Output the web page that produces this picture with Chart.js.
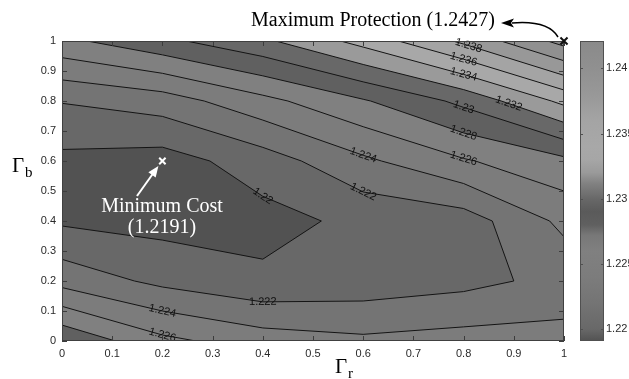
<!DOCTYPE html>
<html>
<head>
<meta charset="utf-8">
<script src="https://cdn.jsdelivr.net/npm/chart.js@4/dist/chart.umd.min.js"></script>
<style>
  html, body { margin: 0; padding: 0; background: #fff; }
</style>
</head>
<body>
<canvas id="chart" width="629" height="379"></canvas>
<script>
// grid of the study
const gammaR = [0, 0.2, 0.4, 0.6, 0.8, 1];
const gammaB = [0, 0.2, 0.4, 0.6, 0.8, 1];
// total cost, one row per gammaB value (bottom to top)
const costRows = [
  [1.2297, 1.2265, 1.2250, 1.2244, 1.2248, 1.2248],
  [1.2233, 1.2215, 1.2204, 1.2208, 1.2214, 1.2226],
  [1.2197, 1.2193, 1.2193, 1.2205, 1.2210, 1.2245],
  [1.2195, 1.2191, 1.2210, 1.2236, 1.2258, 1.2275],
  [1.2221, 1.2230, 1.2254, 1.2278, 1.2305, 1.2345],
  [1.2275, 1.2295, 1.2316, 1.2347, 1.2384, 1.2427]
];
const levels = [1.22, 1.222, 1.224, 1.226, 1.228, 1.23, 1.232, 1.234, 1.236, 1.238, 1.24, 1.242];
const axisTicks = [0, 0.1, 0.2, 0.3, 0.4, 0.5, 0.6, 0.7, 0.8, 0.9, 1];
const cbTicks = [1.22, 1.225, 1.23, 1.235, 1.24];
const cbMin = 1.2191, cbMax = 1.2421;
// gray colormap (value -> gray level)
const cmapValues = [1.2191, 1.2200, 1.2210, 1.2220, 1.2240, 1.2260, 1.2272, 1.2280, 1.2290, 1.2300, 1.2312, 1.2320, 1.2330, 1.2340, 1.2360, 1.2380, 1.2400, 1.2421];
const cmapGray   = [82, 104, 110, 116, 124, 128, 120, 96, 90, 104, 130, 154, 166, 168, 164, 152, 144, 138];
// contour labels: level, gammaR where it sits, rough gammaB of the branch
const labelSpots = [
  [1.238, 0.81, 0.99], [1.236, 0.80, 0.94], [1.234, 0.80, 0.89], [1.232, 0.89, 0.80],
  [1.23, 0.80, 0.78], [1.228, 0.80, 0.69], [1.226, 0.80, 0.61], [1.224, 0.60, 0.61],
  [1.222, 0.60, 0.51], [1.22, 0.40, 0.48], [1.222, 0.40, 0.13], [1.224, 0.20, 0.09],
  [1.226, 0.20, 0.02]
];
const minCost = [0.2, 0.6, 1.2191];
const maxProt = [1, 1, 1.2427];

const fmt = v => String(Number(v.toFixed(4)));

function grayAt(v) {
  let g = cmapGray[0];
  if (v >= cmapValues[cmapValues.length - 1]) g = cmapGray[cmapGray.length - 1];
  for (let k = 0; k < cmapValues.length - 1; k++) {
    if (v >= cmapValues[k] && v <= cmapValues[k + 1]) {
      const t = (v - cmapValues[k]) / (cmapValues[k + 1] - cmapValues[k]);
      g = cmapGray[k] + t * (cmapGray[k + 1] - cmapGray[k]);
      break;
    }
  }
  g = Math.round(g);
  return `rgb(${g},${g},${g})`;
}

function cell(i, j) {
  return [
    { x: gammaR[i], y: gammaB[j], v: costRows[j][i] },
    { x: gammaR[i + 1], y: gammaB[j], v: costRows[j][i + 1] },
    { x: gammaR[i + 1], y: gammaB[j + 1], v: costRows[j + 1][i + 1] },
    { x: gammaR[i], y: gammaB[j + 1], v: costRows[j + 1][i] }
  ];
}

function cut(a, b, L) {
  const t = (L - a.v) / (b.v - a.v);
  return { x: a.x + t * (b.x - a.x), y: a.y + t * (b.y - a.y), v: L };
}

// part of a cell where cost >= L
function clipCell(pts, L) {
  const out = [];
  for (let k = 0; k < pts.length; k++) {
    const a = pts[k], b = pts[(k + 1) % pts.length];
    const ain = a.v >= L, bin = b.v >= L;
    if (ain) out.push(a);
    if (ain !== bin) out.push(cut(a, b, L));
  }
  return out;
}

// marching squares
function segments(L) {
  const segs = [];
  for (let j = 0; j < gammaB.length - 1; j++) {
    for (let i = 0; i < gammaR.length - 1; i++) {
      const c = cell(i, j);
      const pts = [];
      for (let k = 0; k < 4; k++) {
        const a = c[k], b = c[(k + 1) % 4];
        if ((a.v >= L) !== (b.v >= L)) pts.push(cut(a, b, L));
      }
      if (pts.length === 2) segs.push(pts);
      else if (pts.length === 4) {
        const mid = (c[0].v + c[1].v + c[2].v + c[3].v) / 4;
        if ((mid >= L) === (c[0].v >= L)) { segs.push([pts[0], pts[1]], [pts[2], pts[3]]); }
        else { segs.push([pts[0], pts[3]], [pts[1], pts[2]]); }
      }
    }
  }
  return segs;
}

const contourPlugin = {
  id: 'contour',
  beforeDatasetsDraw(chart) {
    const { ctx, chartArea: a, scales: { x, y } } = chart;
    const px = v => x.getPixelForValue(v), py = v => y.getPixelForValue(v);
    ctx.save();
    ctx.beginPath();
    ctx.rect(a.left, a.top, a.right - a.left, a.bottom - a.top);
    ctx.clip();
    ctx.fillStyle = grayAt(cbMin);
    ctx.fillRect(a.left, a.top, a.right - a.left, a.bottom - a.top);

    levels.forEach(L => {
      ctx.beginPath();
      for (let j = 0; j < gammaB.length - 1; j++) {
        for (let i = 0; i < gammaR.length - 1; i++) {
          const poly = clipCell(cell(i, j), L);
          if (poly.length < 3) continue;
          poly.forEach((p, k) => k ? ctx.lineTo(px(p.x), py(p.y)) : ctx.moveTo(px(p.x), py(p.y)));
          ctx.closePath();
        }
      }
      ctx.fillStyle = grayAt(L);
      ctx.fill();
    });

    ctx.strokeStyle = '#141414';
    ctx.lineWidth = 1;
    levels.forEach(L => {
      ctx.beginPath();
      segments(L).forEach(s => {
        ctx.moveTo(px(s[0].x), py(s[0].y));
        ctx.lineTo(px(s[1].x), py(s[1].y));
      });
      ctx.stroke();
    });
    ctx.restore();

    // contour labels
    ctx.save();
    ctx.font = '11px "Liberation Sans", Arial, sans-serif';
    ctx.fillStyle = '#111';
    ctx.textAlign = 'center';
    ctx.textBaseline = 'middle';
    labelSpots.forEach(([L, xr, yb]) => {
      let best = null, bestD = Infinity;
      segments(L).forEach(s => {
        const x0 = Math.min(s[0].x, s[1].x), x1 = Math.max(s[0].x, s[1].x);
        if (xr < x0 || xr > x1 || x1 === x0) return;
        const t = (xr - s[0].x) / (s[1].x - s[0].x);
        const yv = s[0].y + t * (s[1].y - s[0].y);
        if (Math.abs(yv - yb) < bestD) { bestD = Math.abs(yv - yb); best = { s, yv }; }
      });
      if (!best) return;
      const s = best.s;
      let ang = Math.atan2(py(s[1].y) - py(s[0].y), px(s[1].x) - px(s[0].x));
      if (ang > Math.PI / 2) ang -= Math.PI;
      if (ang < -Math.PI / 2) ang += Math.PI;
      ctx.save();
      ctx.translate(px(xr), py(best.yv));
      ctx.rotate(ang);
      ctx.fillText(fmt(L), 0, 0);
      ctx.restore();
    });
    ctx.restore();

    // inner tick marks and box
    ctx.save();
    ctx.strokeStyle = '#3c3c3c';
    ctx.lineWidth = 1;
    ctx.beginPath();
    axisTicks.forEach(t => {
      const xx = Math.round(px(t)) + 0.5, yy = Math.round(py(t)) + 0.5;
      ctx.moveTo(xx, a.bottom); ctx.lineTo(xx, a.bottom - 5);
      ctx.moveTo(xx, a.top); ctx.lineTo(xx, a.top + 5);
      ctx.moveTo(a.left, yy); ctx.lineTo(a.left + 5, yy);
      ctx.moveTo(a.right, yy); ctx.lineTo(a.right - 5, yy);
    });
    ctx.stroke();
    ctx.strokeStyle = '#404040';
    ctx.strokeRect(Math.round(a.left) + 0.5, Math.round(a.top) + 0.5, Math.round(a.right - a.left) - 1, Math.round(a.bottom - a.top) - 1);
    ctx.restore();
  },
  afterDraw(chart) {
    const { ctx, scales: { x, y, cb } } = chart;
    const px = v => x.getPixelForValue(v), py = v => y.getPixelForValue(v);

    // colour bar
    const top = cb.getPixelForValue(cbMax), bot = cb.getPixelForValue(cbMin);
    const cx0 = cb.left + 16, cx1 = cb.left + 40;
    const grad = ctx.createLinearGradient(0, top, 0, bot);
    cmapValues.forEach(v => {
      const off = Math.min(1, Math.max(0, (cbMax - v) / (cbMax - cbMin)));
      grad.addColorStop(off, grayAt(v));
    });
    ctx.save();
    ctx.fillStyle = grad;
    ctx.fillRect(cx0, top, cx1 - cx0, bot - top);
    ctx.strokeStyle = '#505050';
    ctx.lineWidth = 1;
    ctx.strokeRect(cx0 + 0.5, top + 0.5, cx1 - cx0 - 1, bot - top - 1);
    ctx.beginPath();
    cbTicks.forEach(v => {
      const yy = Math.round(cb.getPixelForValue(v)) + 0.5;
      ctx.moveTo(cx1, yy); ctx.lineTo(cx1 - 3, yy);
      ctx.moveTo(cx0, yy); ctx.lineTo(cx0 + 3, yy);
    });
    ctx.stroke();
    ctx.restore();

    // axis titles
    ctx.save();
    ctx.fillStyle = '#000';
    ctx.textBaseline = 'alphabetic';
    ctx.textAlign = 'left';
    ctx.font = '21px "Liberation Serif", "Times New Roman", serif';
    ctx.fillText('Γ', 12, 172);
    ctx.fillText('Γ', 335, 373);
    ctx.font = '15px "Liberation Serif", "Times New Roman", serif';
    ctx.fillText('b', 25, 177);
    ctx.fillText('r', 348, 378);

    // annotations
    ctx.font = '20px "Liberation Serif", "Times New Roman", serif';
    ctx.textAlign = 'center';
    ctx.fillText(`Maximum Protection (${maxProt[2]})`, 373, 26);
    ctx.strokeStyle = '#000';
    ctx.lineWidth = 1.5;
    ctx.beginPath();
    ctx.moveTo(512, 23);
    ctx.quadraticCurveTo(548, 20, px(maxProt[0]) - 6, py(maxProt[1]) - 4);
    ctx.stroke();
    ctx.beginPath();
    ctx.moveTo(501, 23); ctx.lineTo(514, 18.5); ctx.lineTo(511, 23); ctx.lineTo(514, 27.5); ctx.closePath();
    ctx.fillStyle = '#000';
    ctx.fill();

    ctx.fillStyle = '#fff';
    ctx.fillText('Minimum Cost', 162, 212);
    ctx.fillText(`(${minCost[2]})`, 162, 233);
    const tipX = px(minCost[0]) - 4, tipY = py(minCost[1]) + 5;
    const sx = 137, sy = 196;
    const ang = Math.atan2(tipY - sy, tipX - sx);
    ctx.strokeStyle = '#fff';
    ctx.lineWidth = 2;
    ctx.beginPath();
    ctx.moveTo(sx, sy);
    ctx.lineTo(tipX - 8 * Math.cos(ang), tipY - 8 * Math.sin(ang));
    ctx.stroke();
    ctx.beginPath();
    ctx.moveTo(tipX, tipY);
    ctx.lineTo(tipX - 11 * Math.cos(ang) + 4.5 * Math.sin(ang), tipY - 11 * Math.sin(ang) - 4.5 * Math.cos(ang));
    ctx.lineTo(tipX - 11 * Math.cos(ang) - 4.5 * Math.sin(ang), tipY - 11 * Math.sin(ang) + 4.5 * Math.cos(ang));
    ctx.closePath();
    ctx.fill();
    ctx.restore();
  }
};

const tickFont = { family: '"Liberation Sans", Arial, sans-serif', size: 11 };
// keep the plot box where the reference has it
const noPad = s => { s.paddingTop = 0; s.paddingBottom = 0; s.paddingLeft = 0; s.paddingRight = 0; };

new Chart(document.getElementById('chart'), {
  type: 'scatter',
  data: {
    datasets: [
      {
        label: 'Minimum Cost',
        data: [{ x: minCost[0], y: minCost[1] }],
        pointStyle: 'crossRot', pointRadius: 4.5,
        pointBorderColor: '#ffffff', pointBorderWidth: 2, clip: false
      },
      {
        label: 'Maximum Protection',
        data: [{ x: maxProt[0], y: maxProt[1] }],
        pointStyle: 'crossRot', pointRadius: 5,
        pointBorderColor: '#111111', pointBorderWidth: 2, clip: false
      }
    ]
  },
  options: {
    responsive: false,
    devicePixelRatio: 1,
    animation: false,
    layout: { padding: { top: 41 } },
    plugins: { legend: { display: false }, tooltip: { enabled: false } },
    scales: {
      x: {
        type: 'linear', min: 0, max: 1,
        afterBuildTicks: s => { s.ticks = axisTicks.map(v => ({ value: v })); },
        afterFit: s => { s.height = 38; noPad(s); },
        ticks: { callback: v => fmt(v), font: tickFont, color: '#2a2a2a', padding: 6, autoSkip: false, maxRotation: 0 },
        grid: { display: false, drawTicks: false },
        border: { display: false }
      },
      y: {
        type: 'linear', min: 0, max: 1,
        afterBuildTicks: s => { s.ticks = axisTicks.map(v => ({ value: v })); },
        afterFit: s => { s.width = 62; noPad(s); },
        ticks: { callback: v => fmt(v), font: tickFont, color: '#2a2a2a', padding: 6, autoSkip: false },
        grid: { display: false, drawTicks: false },
        border: { display: false }
      },
      cb: {
        type: 'linear', position: 'right', min: cbMin, max: cbMax,
        afterBuildTicks: s => { s.ticks = cbTicks.map(v => ({ value: v })); },
        afterFit: s => { s.width = 65; noPad(s); },
        ticks: { callback: v => fmt(v), font: tickFont, color: '#2a2a2a', padding: 42, autoSkip: false },
        grid: { display: false, drawTicks: false },
        border: { display: false }
      }
    }
  },
  plugins: [contourPlugin]
});
</script>
</body>
</html>
